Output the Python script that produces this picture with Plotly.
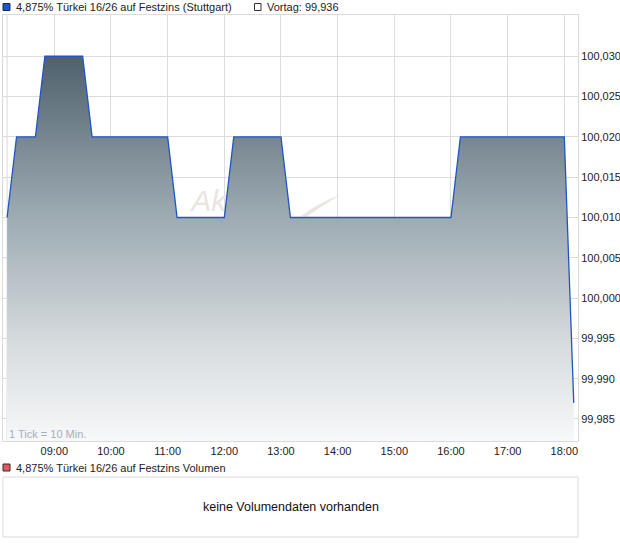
import plotly.graph_objects as go

# ---- data ----
day = "2024-01-02 "
times = ["08:10", "08:20", "08:40", "08:50", "09:30", "09:40", "11:00", "11:10",
         "12:00", "12:10", "13:00", "13:10", "16:00", "16:10", "18:00", "18:10"]
prices = [100.010, 100.020, 100.020, 100.030, 100.030, 100.020, 100.020, 100.010,
          100.010, 100.020, 100.020, 100.010, 100.010, 100.020, 100.020, 99.987]
series_name = "4,875% Türkei 16/26 auf Festzins (Stuttgart)"
prev_label = "Vortag: 99,936"
volume_name = "4,875% Türkei 16/26 auf Festzins Volumen"
volume_msg = "keine Volumendaten vorhanden"
tick_note = "1 Tick = 10 Min."
y_ticks = [99.985, 99.990, 99.995, 100.000, 100.005, 100.010, 100.015, 100.020, 100.025, 100.030]

x = [day + t for t in times]
y_min, y_max = 99.98227, 100.03512
x_range = [day + "08:05:40", day + "18:14:30"]

W, H = 620, 546
L, R, T, B = 3, 578, 15, 441  # plot area in pixels


def px(xp):
    return (xp - L) / (R - L)


def py(yp):
    return (B - yp) / (B - T)


FONT = "Liberation Sans, Arial, sans-serif"

fig = go.Figure()

# watermark text (drawn first so the fill covers it)
fig.add_trace(go.Scatter(
    x=[day + "11:25"], y=[100.0117], mode="text", text=["<i>Ak</i>"],
    textposition="middle right",
    textfont=dict(family=FONT, size=30, color="#e9e5e0"),
    hoverinfo="skip", showlegend=False))

# baseline for the fill
fig.add_trace(go.Scatter(
    x=x, y=[y_min - 0.001] * len(x), mode="lines", line=dict(width=0),
    hoverinfo="skip", showlegend=False))

fig.add_trace(go.Scatter(
    x=x, y=prices, mode="lines", fill="tonexty",
    line=dict(color="#1f56c4", width=1.3),
    fillgradient=dict(type="vertical",
                      colorscale=[[0, "#f7f8f9"], [0.25, "#d6dbde"], [0.6, "#98a6ae"],
                                  [1, "#4b5d69"]],
                      start=y_min, stop=100.031),
    showlegend=False, name=series_name))

shapes = []
# gray line at the start of data
shapes.append(dict(type="line", xref="x", yref="paper", x0=x[0], x1=x[0], y0=0, y1=1,
                   line=dict(color="#dadada", width=1), layer="below"))
# swoosh watermark
sw = "M {a},{b} Q {c},{d} {e},{f} Q {g},{h} {i},{j} Z".format(
    a=px(301), b=py(216), c=px(320), d=py(202), e=px(340), f=py(195),
    g=px(322), h=py(206), i=px(306), j=py(217))
shapes.append(dict(type="path", xref="paper", yref="paper", path=sw,
                   fillcolor="#e9e5e0", line=dict(width=0), layer="below"))
# legend squares
shapes.append(dict(type="rect", xref="paper", yref="paper",
                   x0=px(3), x1=px(10), y0=py(10.5), y1=py(3.5),
                   fillcolor="#1f56c4", line=dict(color="#1a2a4a", width=1)))
shapes.append(dict(type="rect", xref="paper", yref="paper",
                   x0=px(254.5), x1=px(261), y0=py(10.5), y1=py(3.5),
                   fillcolor="#ffffff", line=dict(color="#333333", width=1)))
shapes.append(dict(type="rect", xref="paper", yref="paper",
                   x0=px(3), x1=px(10), y0=py(471), y1=py(464),
                   fillcolor="#d9605e", line=dict(color="#4a2020", width=1)))
# volume box
shapes.append(dict(type="rect", xref="paper", yref="paper",
                   x0=px(3), x1=px(578), y0=py(537), y1=py(477),
                   fillcolor="rgba(0,0,0,0)", line=dict(color="#dadada", width=1)))

annotations = [
    dict(xref="paper", yref="paper", x=px(14), y=py(7), xanchor="left", yanchor="middle",
         text=series_name, showarrow=False, font=dict(family=FONT, size=11, color="#222")),
    dict(xref="paper", yref="paper", x=px(265), y=py(7), xanchor="left", yanchor="middle",
         text=prev_label, showarrow=False, font=dict(family=FONT, size=11, color="#222")),
    dict(xref="paper", yref="paper", x=px(14), y=py(467.5), xanchor="left", yanchor="middle",
         text=volume_name, showarrow=False, font=dict(family=FONT, size=11, color="#222")),
    dict(xref="paper", yref="paper", x=px(290.5), y=py(507), xanchor="center", yanchor="middle",
         text=volume_msg, showarrow=False, font=dict(family=FONT, size=12.5, color="#111")),
    dict(xref="paper", yref="paper", x=px(7), y=py(434), xanchor="left", yanchor="middle",
         text=tick_note, showarrow=False, font=dict(family=FONT, size=11, color="#a4b0c0")),
]

fig.update_layout(
    width=W, height=H,
    margin=dict(l=L, r=W - R, t=T, b=H - B, pad=0, autoexpand=False),
    paper_bgcolor="white", plot_bgcolor="white",
    separators=",.",
    font=dict(family=FONT, size=11, color="#222"),
    shapes=shapes, annotations=annotations, showlegend=False,
    xaxis=dict(type="date", range=x_range, dtick=3600000, tick0=day + "09:00",
               tickformat="%H:%M", showgrid=True, gridcolor="#dcdcdc", gridwidth=1,
               showline=True, linecolor="#dadada", mirror=True, ticks="",
               automargin=False,
               zeroline=False, tickfont=dict(family=FONT, size=11, color="#222")),
    yaxis=dict(range=[y_min, y_max], side="right", tickvals=y_ticks,
               tickformat=".3f", showgrid=True, gridcolor="#dcdcdc", gridwidth=1,
               showline=True, linecolor="#dadada", mirror=True, ticks="",
               automargin=False,
               zeroline=False, tickfont=dict(family=FONT, size=11, color="#222")),
)

fig.write_html("out.html", config={"displayModeBar": False},
               post_script="document.body.style.margin='0';document.body.style.overflow='hidden';")
